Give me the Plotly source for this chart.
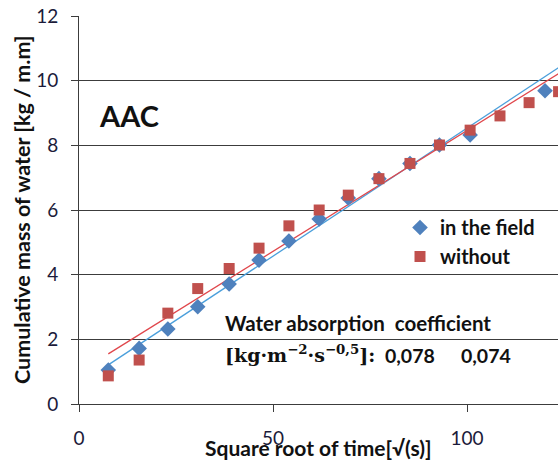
import plotly.graph_objects as go

# ---- data ----
x_field = [7.55, 15.5, 22.9, 30.6, 38.7, 46.4, 54.1, 61.9, 69.4, 77.3, 85.3, 92.9, 100.8, 120.1]
y_field = [1.05, 1.72, 2.32, 3.01, 3.71, 4.45, 5.04, 5.72, 6.37, 6.97, 7.44, 8.01, 8.32, 9.69]

x_without = [7.55, 15.5, 22.9, 30.6, 38.7, 46.4, 54.1, 61.9, 69.4, 77.3, 85.3, 92.9, 100.8, 108.5, 116.0, 123.6]
y_without = [0.87, 1.36, 2.81, 3.57, 4.19, 4.82, 5.51, 6.00, 6.46, 6.97, 7.44, 8.01, 8.47, 8.91, 9.32, 9.66]

# linear trend lines (slope, intercept)
trend_field = (0.0792, 0.612)
trend_without = (0.0747, 0.986)

x_range = [0, 123.45]
y_range = [0, 12]
x_ticks = [0, 50, 100]
y_ticks = [0, 2, 4, 6, 8, 10, 12]

names = ["in the field", "without"]
coef_labels = ["0,078", "0,074"]

FONT = "Lato"
BLUE = "#4F81BD"
RED = "#C0504D"
BLUE_LINE = "#4A9FDB"
RED_LINE = "#E0474C"
GRID = "#3c3c3c"
TXT = "#111111"

W, H = 558, 463
ML, MR, MT, MB = 79, 0, 16, 59
PW, PH = W - ML - MR, H - MT - MB


def px(xp):  # window pixel -> paper x
    return (xp - ML) / PW


def py(yp):  # window pixel -> paper y
    return (H - MB - yp) / PH


fig = go.Figure()


def trend_line(coef, color):
    xs = [x_field[0], x_range[1] + 10]
    ys = [coef[0] * x + coef[1] for x in xs]
    fig.add_trace(go.Scatter(x=xs, y=ys, mode="lines", line=dict(color=color, width=1.3),
                             showlegend=False, hoverinfo="skip"))


trend_line(trend_field, BLUE_LINE)
trend_line(trend_without, RED_LINE)

fig.add_trace(go.Scatter(x=x_field, y=y_field, mode="markers", name=names[0],
                         marker=dict(symbol="diamond", size=12, color=BLUE)))
fig.add_trace(go.Scatter(x=x_without, y=y_without, mode="markers", name=names[1],
                         marker=dict(symbol="square", size=11, color=RED)))

fig.update_layout(
    width=W, height=H,
    margin=dict(l=ML, r=MR, t=MT, b=MB, pad=0),
    paper_bgcolor="white", plot_bgcolor="white",
    font=dict(family=FONT, color=TXT, size=18),
    legend=dict(x=px(400), y=py(208), xanchor="left", yanchor="top",
                bgcolor="rgba(0,0,0,0)", font=dict(size=20, family=FONT, weight="bold"),
                itemwidth=30, tracegroupgap=0),
    showlegend=True,
)

fig.update_xaxes(range=x_range, tickvals=x_ticks, showgrid=False, zeroline=False,
                 showline=True, linecolor=GRID, linewidth=1,
                 ticks="outside", ticklen=7, tickcolor=GRID, tickwidth=1,
                 ticklabelstandoff=10,
                 tickfont=dict(size=19, color="#1b1b3a"))
fig.update_yaxes(range=y_range, tickvals=y_ticks, showgrid=True, gridcolor=GRID, gridwidth=1,
                 zeroline=False, showline=True, linecolor=GRID, linewidth=1,
                 ticks="outside", ticklen=7, tickcolor=GRID, tickwidth=1,
                 ticklabelstandoff=9,
                 tickfont=dict(size=19, color="#1b1b3a"))

# axis titles
fig.add_annotation(x=px(22), y=0.5, xref="paper", yref="paper", xanchor="center", yanchor="middle",
                   text="<b>Cumulative mass of water [kg / m.m]</b>", textangle=-90,
                   showarrow=False, font=dict(size=21.5, family=FONT, color=TXT))
fig.add_annotation(x=0.5, y=py(447), xref="paper", yref="paper", xanchor="center", yanchor="middle",
                   text="<b>Square root of time[√(s)]</b>",
                   showarrow=False, font=dict(size=21, family=FONT, color=TXT))

# in-plot texts
fig.add_annotation(x=px(97), y=py(116), xref="paper", yref="paper", xanchor="left", yanchor="middle",
                   text="<b>AAC</b>", showarrow=False, font=dict(size=29, family=FONT, color=TXT))
fig.add_annotation(x=px(223), y=py(323), xref="paper", yref="paper", xanchor="left", yanchor="middle",
                   text="<b>Water absorption\u00a0 coefficient</b>", showarrow=False,
                   font=dict(size=20.5, family=FONT, color=TXT))
fig.add_annotation(x=px(223), y=py(354), xref="paper", yref="paper", xanchor="left", yanchor="middle",
                   text="<b>[kg·m<sup>−2</sup>·s<sup>−0,5</sup>]:</b>", showarrow=False,
                   font=dict(size=19, family="DejaVu Serif", color=TXT))
fig.add_annotation(x=px(383), y=py(355), xref="paper", yref="paper", xanchor="left", yanchor="middle",
                   text="<b>" + coef_labels[0] + "</b>", showarrow=False,
                   font=dict(size=19.5, family=FONT, color=TXT))
fig.add_annotation(x=px(459), y=py(355), xref="paper", yref="paper", xanchor="left", yanchor="middle",
                   text="<b>" + coef_labels[1] + "</b>", showarrow=False,
                   font=dict(size=19.5, family=FONT, color=TXT))

fig.write_html("out.html",
               config={"displayModeBar": False},
               post_script="document.body.style.margin='0';document.body.style.overflow='hidden';")
